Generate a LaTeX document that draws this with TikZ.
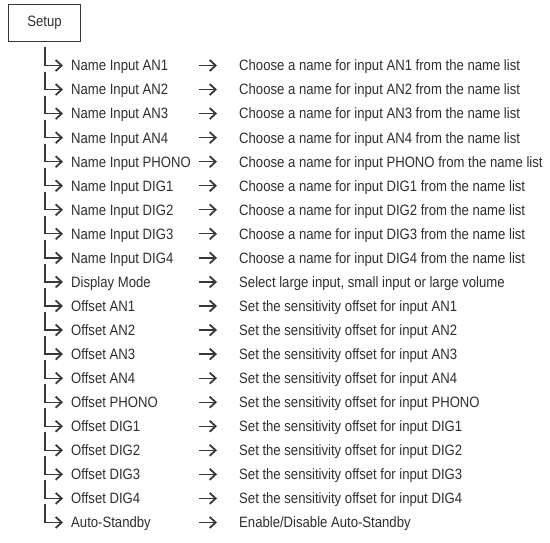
\documentclass[tikz,border=0pt]{standalone}
\usepackage{fontspec}
\setmainfont{Liberation Sans}[FakeStretch=0.875]
\usetikzlibrary{arrows.meta}
\definecolor{txt}{HTML}{2E2E2E}
\definecolor{ln}{HTML}{383838}
\begin{document}
\begin{tikzpicture}[x=1pt,y=-1pt,
  lbl/.style={anchor=west,inner sep=0pt,text height=10.7pt,text depth=0pt,font=\fontsize{15pt}{17pt}\selectfont,text=txt},
  conn/.style={draw=ln,line width=1.3pt,-{Straight Barb[length=6pt,width=11pt,line width=1.8pt]}},
  box/.style={draw=ln,line width=0.8pt,minimum width=72.4pt,minimum height=37pt,inner sep=0pt,font=\fontsize{15pt}{17pt}\selectfont,text=txt}]
\useasboundingbox (0,0) rectangle (550,543);
\node[box] (setup) at (44.5,22.8) {Setup};
\foreach \i/\a/\b in {
  1/{Name Input AN1}/{Choose a name for input AN1 from the name list},
  2/{Name Input AN2}/{Choose a name for input AN2 from the name list},
  3/{Name Input AN3}/{Choose a name for input AN3 from the name list},
  4/{Name Input AN4}/{Choose a name for input AN4 from the name list},
  5/{Name Input PHONO}/{Choose a name for input PHONO from the name list},
  6/{Name Input DIG1}/{Choose a name for input DIG1 from the name list},
  7/{Name Input DIG2}/{Choose a name for input DIG2 from the name list},
  8/{Name Input DIG3}/{Choose a name for input DIG3 from the name list},
  9/{Name Input DIG4}/{Choose a name for input DIG4 from the name list},
  10/{Display Mode}/{Select large input, small input or large volume},
  11/{Offset AN1}/{Set the sensitivity offset for input AN1},
  12/{Offset AN2}/{Set the sensitivity offset for input AN2},
  13/{Offset AN3}/{Set the sensitivity offset for input AN3},
  14/{Offset AN4}/{Set the sensitivity offset for input AN4},
  15/{Offset PHONO}/{Set the sensitivity offset for input PHONO},
  16/{Offset DIG1}/{Set the sensitivity offset for input DIG1},
  17/{Offset DIG2}/{Set the sensitivity offset for input DIG2},
  18/{Offset DIG3}/{Set the sensitivity offset for input DIG3},
  19/{Offset DIG4}/{Set the sensitivity offset for input DIG4},
  20/{Auto-Standby}/{Enable/Disable Auto-Standby}} {
  \pgfmathsetmacro\y{65.5+(\i-1)*24.05}
  \node[lbl] (n\i) at (71,\y) {\a};
  \node[lbl] (d\i) at (239,\y) {\b};
  \coordinate (s\i) at (45,\y-18);
  \coordinate (e\i) at (63,\y);
  \coordinate (ma\i) at (199,\y);
  \coordinate (mb\i) at (217,\y);
  \draw[conn] (s\i) |- (e\i);
  \draw[conn] (ma\i) -- (mb\i);
}
\end{tikzpicture}
\end{document}
